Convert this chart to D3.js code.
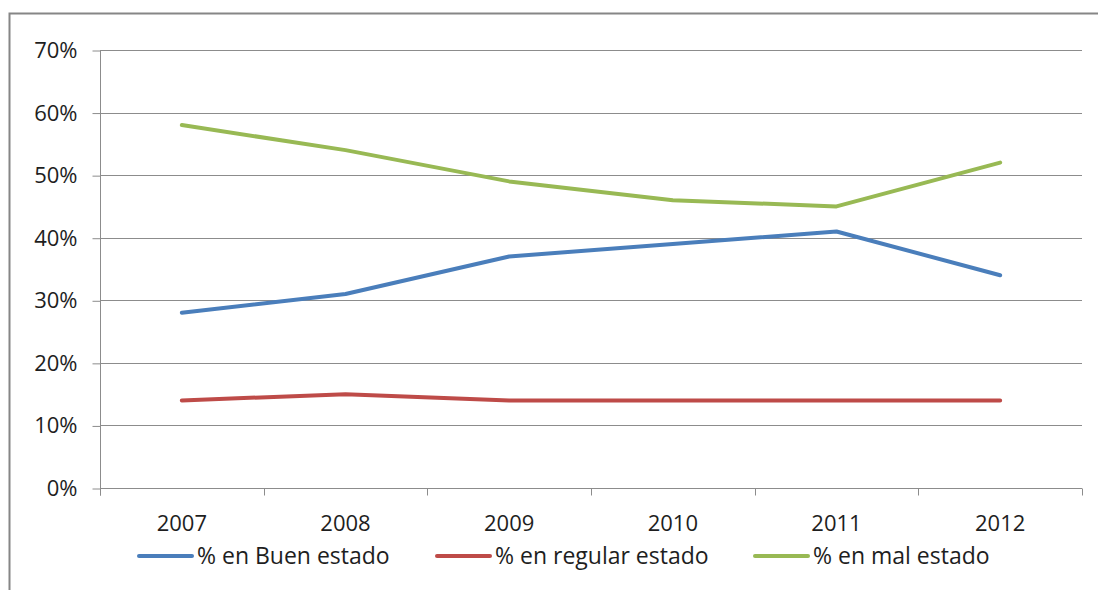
<!DOCTYPE html>
<html lang="es">
<head>
<meta charset="UTF-8">
<title>Estado</title>
<script src="https://d3js.org/d3.v7.min.js"></script>
<style>
  body { margin: 0; background: #fff; }
  text { font-family: "Open Sans", "Noto Sans", sans-serif; fill: #1e1e1e; }
</style>
</head>
<body>
<script>
"use strict";
// data
const years = ["2007", "2008", "2009", "2010", "2011", "2012"];
const buen = [0.28, 0.31, 0.37, 0.39, 0.41, 0.34];
const regular = [0.14, 0.15, 0.14, 0.14, 0.14, 0.14];
const mal = [0.58, 0.54, 0.49, 0.46, 0.45, 0.52];
const yTicks = [0, 0.1, 0.2, 0.3, 0.4, 0.5, 0.6, 0.7];
const seriesNames = ["% en Buen estado", "% en regular estado", "% en mal estado"];
const colors = ["#4a7ebb", "#be4b48", "#98b954"];

const W = 1098, H = 590;
const pLeft = 100, pRight = 1082, pTop = 50, pBottom = 488;

const svg = d3.select("body").append("svg")
  .attr("width", W).attr("height", H);

// outer frame
svg.append("rect")
  .attr("x", 9.5).attr("y", 13.5)
  .attr("width", W + 20).attr("height", H + 20)
  .attr("fill", "#fff").attr("stroke", "#868686").attr("stroke-width", 2);

const x = d3.scaleBand().domain(years).range([pLeft, pRight]);
const y = d3.scaleLinear().domain([0, 0.7]).range([pBottom, pTop]);

// gridlines
svg.append("g").selectAll("line")
  .data(yTicks.filter(d => d > 0))
  .enter().append("line")
  .attr("x1", pLeft).attr("x2", pRight)
  .attr("y1", d => Math.round(y(d)) + 0.5).attr("y2", d => Math.round(y(d)) + 0.5)
  .attr("stroke", "#8c8c8c").attr("stroke-width", 1);

// y axis
const yAxis = svg.append("g")
  .attr("transform", `translate(${pLeft + 0.5},0.5)`)
  .call(d3.axisLeft(y).tickValues(yTicks).tickFormat(d3.format(".0%")).tickSize(8).tickPadding(15));
yAxis.select(".domain").attr("stroke", "#8c8c8c").attr("d", `M0,${pTop}V${pBottom + 7}`);
yAxis.selectAll(".tick line").attr("stroke", "#8c8c8c");
yAxis.selectAll(".tick text").style("font-size", "22px").attr("fill", "#1e1e1e");

// x axis: ticks at category boundaries
const xg = svg.append("g").attr("transform", `translate(0,${Math.round(pBottom) + 0.5})`);
xg.append("line").attr("x1", pLeft).attr("x2", pRight).attr("stroke", "#8c8c8c");
xg.selectAll("line.tk")
  .data(years.concat(["end"]))
  .enter().append("line").attr("class", "tk")
  .attr("x1", (d, i) => Math.round(pLeft + i * x.bandwidth()) + 0.5)
  .attr("x2", (d, i) => Math.round(pLeft + i * x.bandwidth()) + 0.5)
  .attr("y1", 0).attr("y2", 7)
  .attr("stroke", "#8c8c8c");
xg.selectAll("text")
  .data(years)
  .enter().append("text")
  .attr("x", d => x(d) + x.bandwidth() / 2)
  .attr("y", 42)
  .attr("text-anchor", "middle")
  .style("font-size", "22px")
  .text(d => d);

// lines
const line = d3.line()
  .x((d, i) => x(years[i]) + x.bandwidth() / 2)
  .y(d => y(d));
[buen, regular, mal].forEach((s, k) => {
  svg.append("path")
    .datum(s)
    .attr("fill", "none")
    .attr("stroke", colors[k])
    .attr("stroke-width", 4)
    .attr("stroke-linecap", "round")
    .attr("stroke-linejoin", "round")
    .attr("d", line);
});

// legend
const legendX = [139, 437, 755];
const lg = svg.append("g").attr("transform", "translate(0,556)");
seriesNames.forEach((n, k) => {
  lg.append("line")
    .attr("x1", legendX[k]).attr("x2", legendX[k] + 53)
    .attr("y1", 0).attr("y2", 0)
    .attr("stroke", colors[k]).attr("stroke-width", 4).attr("stroke-linecap", "round");
  lg.append("text")
    .attr("x", legendX[k] + 58).attr("y", 8)
    .style("font-size", "23px")
    .text(n);
});
</script>
</body>
</html>
